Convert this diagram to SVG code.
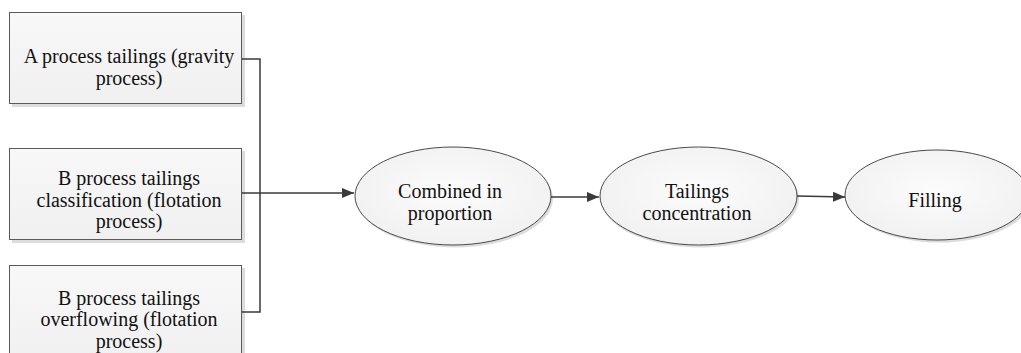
<svg xmlns="http://www.w3.org/2000/svg" width="1021" height="353" viewBox="0 0 1021 353">
<defs>
<linearGradient id="boxg" x1="0" y1="0" x2="0" y2="1">
<stop offset="0" stop-color="#f8f8f8"/>
<stop offset="1" stop-color="#f0f0f0"/>
</linearGradient>
<radialGradient id="ellg" cx="0.5" cy="0.45" r="0.6">
<stop offset="0" stop-color="#fcfcfc"/>
<stop offset="1" stop-color="#f0f0f0"/>
</radialGradient>
<marker id="arr" markerWidth="12" markerHeight="10" refX="12" refY="5" orient="auto" markerUnits="userSpaceOnUse">
<path d="M0,0 L12,5 L0,10 Z" fill="#3a3a3a"/>
</marker>
</defs>
<style>
.box{fill:url(#boxg);stroke:#5a5a5a;stroke-width:1}
.shadow{fill:#dcdcdc}
.ell{fill:url(#ellg);stroke:#4a4a4a;stroke-width:1}
.t{fill:#111;text-anchor:middle}
.c{fill:none;stroke:#3a3a3a;stroke-width:1.5}
</style>
<rect width="1021" height="353" fill="#ffffff"/>
<g id="nodeA">
<rect class="shadow" x="12" y="15" width="233" height="92"/>
<rect class="box" x="9.5" y="12.5" width="232" height="91"/>
<text class="t" font-family="Liberation Serif" font-size="20" x="129" y="63">A process tailings (gravity</text>
<text class="t" font-family="Liberation Serif" font-size="20" x="129" y="85">process)</text>
</g>
<g id="nodeB1">
<rect class="shadow" x="12" y="151" width="233" height="92"/>
<rect class="box" x="9.5" y="148.5" width="232" height="91"/>
<text class="t" font-family="Liberation Serif" font-size="20" x="129" y="185">B process tailings</text>
<text class="t" font-family="Liberation Serif" font-size="20" x="129" y="207">classification (flotation</text>
<text class="t" font-family="Liberation Serif" font-size="20" x="129" y="228">process)</text>
</g>
<g id="nodeB2">
<rect class="shadow" x="12" y="268" width="233" height="100"/>
<rect class="box" x="9.5" y="265.5" width="232" height="100"/>
<text class="t" font-family="Liberation Serif" font-size="20" x="129" y="305">B process tailings</text>
<text class="t" font-family="Liberation Serif" font-size="20" x="129" y="326">overflowing (flotation</text>
<text class="t" font-family="Liberation Serif" font-size="20" x="129" y="348">process)</text>
</g>
<g id="nodeCombined">
<ellipse class="shadow" cx="455" cy="198.5" rx="98" ry="49"/>
<ellipse class="ell" cx="453" cy="196" rx="98" ry="49"/>
<text class="t" font-family="Liberation Serif" font-size="20" x="450" y="198">Combined in</text>
<text class="t" font-family="Liberation Serif" font-size="20" x="450" y="220">proportion</text>
</g>
<g id="nodeConcentration">
<ellipse class="shadow" cx="700" cy="198.5" rx="99" ry="49"/>
<ellipse class="ell" cx="698.5" cy="196" rx="98.5" ry="49"/>
<text class="t" font-family="Liberation Serif" font-size="20" x="697" y="198">Tailings</text>
<text class="t" font-family="Liberation Serif" font-size="20" x="697" y="220">concentration</text>
</g>
<g id="nodeFilling">
<ellipse class="shadow" cx="939" cy="197.5" rx="92" ry="45"/>
<ellipse class="ell" cx="937" cy="195" rx="92" ry="45"/>
<text class="t" font-family="Liberation Serif" font-size="20" x="935" y="207">Filling</text>
</g>
<g id="connectors">
<polyline class="c" points="242,59 260,59 260,312 242,312"/>
<line class="c" x1="242" y1="193" x2="354" y2="193" marker-end="url(#arr)"/>
<line class="c" x1="551" y1="197" x2="599" y2="197" marker-end="url(#arr)"/>
<line class="c" x1="797" y1="196" x2="845" y2="197" marker-end="url(#arr)"/>
</g>
</svg>
